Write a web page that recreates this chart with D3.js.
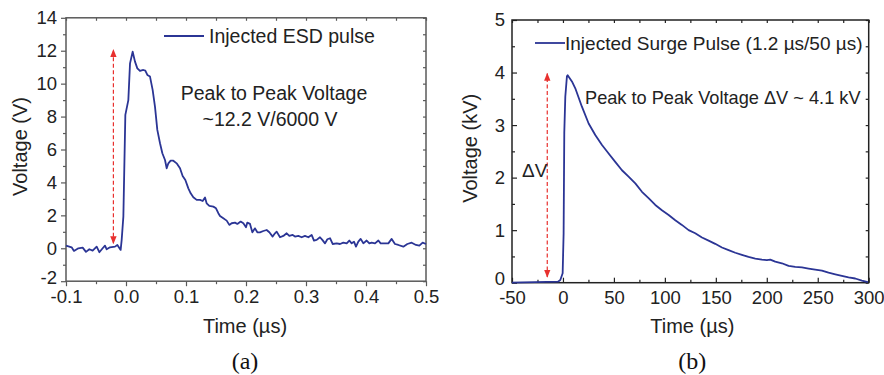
<!DOCTYPE html>
<html>
<head>
<meta charset="utf-8">
<script src="https://cdn.jsdelivr.net/npm/d3@7"></script>
<style>
  body { margin: 0; background: #fff; }
  svg { display: block; font-family: "Liberation Sans", Arial, sans-serif; }
</style>
</head>
<body>
<svg width="884" height="375"></svg>
<script>
// (a) injected ESD pulse, time in µs, voltage in V
const esdTime = [-0.1, -0.0906, -0.0867, -0.0794, -0.0722, -0.0667, -0.0611, -0.0556, -0.0489, -0.0444,
  -0.0389, -0.035, -0.0322, -0.0267, -0.0183, -0.0144, -0.0089, -0.0072, -0.0044, -0.0011,
  0.0039, 0.0067, 0.0111, 0.015, 0.0189, 0.0233, 0.0289, 0.0322, 0.0356, 0.04,
  0.0444, 0.0483, 0.0522, 0.0567, 0.0606, 0.065, 0.0678, 0.0706, 0.0744, 0.0789,
  0.0844, 0.09, 0.0944, 0.0989, 0.1039, 0.1078, 0.1122, 0.1178, 0.1233, 0.1278,
  0.1317, 0.1344, 0.1389, 0.1456, 0.15, 0.1539, 0.1567, 0.1622, 0.1678, 0.1722,
  0.1761, 0.1817, 0.1856, 0.1911, 0.1956, 0.2, 0.2022, 0.2067, 0.2106, 0.215,
  0.2189, 0.2233, 0.2289, 0.2344, 0.2389, 0.2444, 0.2483, 0.2511, 0.2567, 0.2622,
  0.2678, 0.2722, 0.2778, 0.2817, 0.2872, 0.2928, 0.2983, 0.3039, 0.3094, 0.3133,
  0.3178, 0.3233, 0.3272, 0.3317, 0.3356, 0.34, 0.3444, 0.3511, 0.3567, 0.3622,
  0.3678, 0.3722, 0.3761, 0.38, 0.3833, 0.3872, 0.3911, 0.3956, 0.4011, 0.4056,
  0.4094, 0.415, 0.4206, 0.4244, 0.43, 0.4372, 0.4428, 0.4483, 0.4539, 0.4622,
  0.4689, 0.4761, 0.4833, 0.4889, 0.4944, 0.5];
const esdVolt = [0.16, 0.06, -0.16, 0, 0.04, -0.22, -0.06, -0.14, 0.1, -0.24,
  0, 0.16, -0.06, 0.06, 0.1, 0.2, -0.1, 0.51, 1.92, 8.1,
  9.0, 11.23, 11.94, 11.34, 10.93, 10.77, 10.83, 10.79, 10.53, 10.43,
  9.62, 8.6, 7.19, 6.38, 5.77, 5.36, 4.86, 5.16, 5.32, 5.32,
  5.16, 4.86, 4.39, 4.15, 3.64, 3.34, 3.1, 2.94, 2.94, 2.87,
  3.08, 2.73, 2.57, 2.53, 2.43, 2.13, 1.96, 1.82, 1.68, 1.42,
  1.52, 1.56, 1.48, 1.62, 1.52, 1.28, 1.56, 1.48, 0.97, 1.21,
  0.97, 0.97, 1.05, 1.11, 0.97, 0.71, 0.91, 1.01, 0.67, 0.75,
  0.91, 0.75, 0.81, 0.71, 0.75, 0.67, 0.75, 0.67, 0.81, 0.47,
  0.51, 0.67, 0.51, 0.3, 0.55, 0.61, 0.26, 0.3, 0.26, 0.34,
  0.3, 0.47, 0.3, 0.4, 0.1, 0.4, 0.57, 0.3, 0.47, 0.3,
  0.34, 0.3, 0.47, 0.3, 0.3, 0.3, 0.57, 0.26, 0.2, 0.1,
  0.26, 0.34, 0.2, 0.16, 0.34, 0.26];

// (b) injected surge pulse, time in µs, voltage in kV
const surgeTime = [-50, -4.9, -2.6, -0.3, 0.65, 1.3, 2.3, 3.9, 4.6, 8.8,
  12.1, 18.6, 25.2, 31.7, 38.3, 44.8, 51.3, 57.9, 64.4, 71.0,
  77.5, 84.0, 90.6, 97.1, 103.7, 110.2, 116.7, 123.3, 129.8, 136.4,
  142.9, 149.4, 156.0, 162.5, 169.1, 175.6, 182.1, 188.7, 195.2, 200.1,
  203.4, 208.3, 214.8, 221.4, 227.9, 234.5, 241.0, 247.5, 254.1, 260.6,
  267.2, 273.7, 280.2, 286.8, 293.3, 299.2];
const surgeVolt = [0, 0.02, 0.05, 0.18, 0.94, 2.85, 3.54, 3.93, 3.95, 3.83,
  3.70, 3.35, 3.03, 2.81, 2.62, 2.46, 2.30, 2.14, 2.02, 1.89,
  1.73, 1.61, 1.48, 1.38, 1.29, 1.19, 1.10, 1.0, 0.94, 0.86,
  0.80, 0.74, 0.67, 0.62, 0.57, 0.53, 0.49, 0.46, 0.44, 0.43,
  0.44, 0.40, 0.37, 0.32, 0.30, 0.29, 0.27, 0.25, 0.23, 0.19,
  0.16, 0.13, 0.10, 0.08, 0.04, 0.01];

// tick values
const esdXTicks = [-0.1, 0.0, 0.1, 0.2, 0.3, 0.4, 0.5];
const esdXMinor = [-0.05, 0.05, 0.15, 0.25, 0.35, 0.45];
const esdYTicks = [-2, 0, 2, 4, 6, 8, 10, 12, 14];
const esdYMinor = [-1, 1, 3, 5, 7, 9, 11, 13];
const surgeXTicks = [-50, 0, 50, 100, 150, 200, 250, 300];
const surgeXMinor = [-25, 25, 75, 125, 175, 225, 275];
const surgeYTicks = [0, 1, 2, 3, 4, 5];
const surgeYMinor = [0.5, 1.5, 2.5, 3.5, 4.5];

// arrows (peak-to-peak marks)
const esdArrow = {t: -0.021, from: 0.3, to: 12.05};
const surgeArrow = {t: -15.4, from: 0.11, to: 3.98};

const blue = "#2b3595";
const red = "#e8302e";

const svg = d3.select("svg");

const defs = svg.append("defs");
defs.append("marker")
    .attr("id", "head")
    .attr("viewBox", "0 0 10 10")
    .attr("refX", 9).attr("refY", 5)
    .attr("markerWidth", 8).attr("markerHeight", 8)
    .attr("markerUnits", "userSpaceOnUse")
    .attr("orient", "auto-start-reverse")
    .append("path")
    .attr("d", "M0,1 L10,5 L0,9 Z")
    .attr("fill", red);

function fmtDec(d) { return d3.format(".1f")(d).replace("−", "-"); }
function fmtInt(d) { return String(d); }

function drawPanel(opt) {
    const x = d3.scaleLinear().domain(opt.xDomain).range(opt.xRange);
    const y = d3.scaleLinear().domain(opt.yDomain).range(opt.yRange);
    const g = svg.append("g");
    const [x0, x1] = opt.xRange;
    const [y0, y1] = opt.yRange;

    // major / minor ticks on all four sides
    const addAxis = (axis, tr, vals, size, labels) => {
        const a = g.append("g")
            .attr("transform", tr)
            .call(axis.tickValues(vals).tickSize(size).tickSizeOuter(0)
                .tickPadding(labels ? opt.pad[labels] : 0)
                .tickFormat(labels ? opt.fmt[labels] : ""));
        a.select(".domain").remove();
        a.selectAll("line").attr("stroke", opt.axisColor).attr("stroke-width", 1.2);
        a.selectAll("text").attr("fill", "#222").style("font-size", "18.5px");
        return a;
    };
    const outB = opt.outward ? 5 : -5, outBm = opt.outward ? 3 : -3;
    addAxis(d3.axisBottom(x), `translate(0,${y0})`, opt.xTicks, outB, "x");
    addAxis(d3.axisBottom(x), `translate(0,${y0})`, opt.xMinor, outBm, null);
    const ya = addAxis(d3.axisLeft(y), `translate(${x0},0)`, opt.yTicks, outB, "y");
    addAxis(d3.axisLeft(y), `translate(${x0},0)`, opt.yMinor, outBm, null);
    addAxis(d3.axisTop(x), `translate(0,${y1})`, opt.xTicks.concat(opt.xMinor), -3, null);
    addAxis(d3.axisRight(y), `translate(${x1},0)`, opt.yTicks.concat(opt.yMinor), -3, null);
    if (opt.liftLow) {
        ya.selectAll("text").filter(d => d === opt.yDomain[0]).attr("dy", "0.12em");
    }

    // frame
    g.append("rect")
        .attr("x", x0).attr("y", y1)
        .attr("width", x1 - x0).attr("height", y0 - y1)
        .attr("fill", "none")
        .attr("stroke", opt.axisColor)
        .attr("stroke-width", 1.5);

    // curve
    const pts = opt.t.map((t, i) => [t, opt.v[i]]);
    g.append("path")
        .datum(pts)
        .attr("d", d3.line().x(d => x(d[0])).y(d => y(d[1])))
        .attr("fill", "none")
        .attr("stroke", blue)
        .attr("stroke-width", 1.8)
        .attr("stroke-linejoin", "round");

    // dashed double arrow
    g.append("line")
        .attr("x1", x(opt.arrow.t)).attr("x2", x(opt.arrow.t))
        .attr("y1", y(opt.arrow.from)).attr("y2", y(opt.arrow.to))
        .attr("stroke", red)
        .attr("stroke-width", 1.2)
        .attr("stroke-dasharray", "4,2.5")
        .attr("marker-start", "url(#head)")
        .attr("marker-end", "url(#head)");

    // legend
    g.append("line")
        .attr("x1", opt.legend.x1).attr("x2", opt.legend.x2)
        .attr("y1", opt.legend.y).attr("y2", opt.legend.y)
        .attr("stroke", blue).attr("stroke-width", 1.8);
    g.append("text")
        .attr("x", opt.legend.x2 + opt.legend.gap).attr("y", opt.legend.y + 7)
        .style("font-size", opt.legend.size + "px").attr("fill", "#222")
        .text(opt.legend.text);

    // axis titles
    g.append("text")
        .attr("x", (x0 + x1) / 2 + opt.titleShift).attr("y", 333)
        .attr("text-anchor", "middle")
        .style("font-size", "20px").attr("fill", "#222")
        .text("Time (µs)");
    g.append("text")
        .attr("transform", `translate(${opt.yTitleX},${(y0 + y1) / 2 - 3}) rotate(-90)`)
        .attr("text-anchor", "middle")
        .style("font-size", "20px").attr("fill", "#222")
        .text(opt.yTitle);

    // panel label
    g.append("text")
        .attr("x", (x0 + x1) / 2 + opt.titleShift).attr("y", 369)
        .attr("text-anchor", "middle")
        .style("font-family", "'Liberation Serif', 'Times New Roman', serif")
        .style("font-size", "24px").attr("fill", "#111")
        .text(opt.label);

    // annotations
    opt.notes.forEach(n => {
        g.append("text")
            .attr("x", n.x).attr("y", n.y)
            .attr("text-anchor", n.anchor || "start")
            .style("font-size", n.size + "px").attr("fill", "#222")
            .text(n.text);
    });
}

drawPanel({
    xDomain: [-0.1, 0.5], xRange: [66, 426],
    yDomain: [-2, 14], yRange: [281.2, 17.8],
    xTicks: esdXTicks, xMinor: esdXMinor, yTicks: esdYTicks, yMinor: esdYMinor,
    fmt: {x: fmtDec, y: fmtInt},
    outward: true, pad: {x: 4, y: 4}, axisColor: "#5a5a5a", liftLow: true,
    t: esdTime, v: esdVolt, arrow: esdArrow,
    legend: {x1: 164, x2: 204, y: 36, gap: 5, size: 19.5, text: "Injected ESD pulse"},
    yTitle: "Voltage (V)", yTitleX: 27, titleShift: -1, label: "(a)",
    notes: [
        {x: 274, y: 100, anchor: "middle", size: 19.5, text: "Peak to Peak Voltage"},
        {x: 270, y: 126, anchor: "middle", size: 19.5, text: "~12.2 V/6000 V"}
    ]
});

drawPanel({
    xDomain: [-50, 300], xRange: [512, 868.7],
    yDomain: [0, 5], yRange: [282.7, 20],
    xTicks: surgeXTicks, xMinor: surgeXMinor, yTicks: surgeYTicks, yMinor: surgeYMinor,
    fmt: {x: fmtInt, y: fmtInt},
    outward: false, pad: {x: 8, y: 7}, axisColor: "#222", liftLow: true,
    t: surgeTime, v: surgeVolt, arrow: surgeArrow,
    legend: {x1: 535, x2: 565, y: 43, gap: 0, size: 19, text: "Injected Surge Pulse (1.2 µs/50 µs)"},
    yTitle: "Voltage (kV)", yTitleX: 477, titleShift: 2, label: "(b)",
    notes: [
        {x: 585, y: 104, size: 18.2, text: "Peak to Peak Voltage ΔV ~ 4.1 kV"},
        {x: 522, y: 177, size: 19, text: "ΔV"}
    ]
});
</script>
</body>
</html>
